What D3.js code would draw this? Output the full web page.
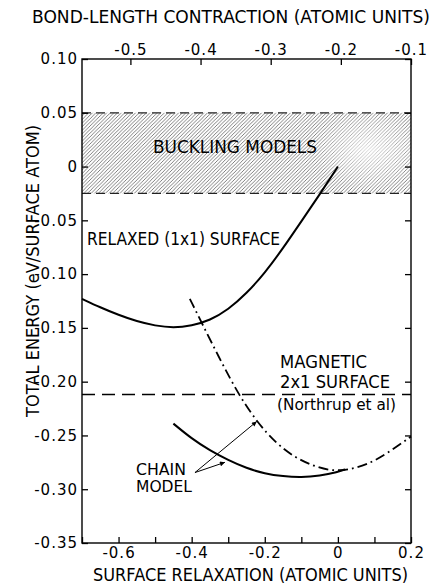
<!DOCTYPE html>
<html lang="en">
  <head>
    <meta charset="UTF-8" />
    <title>Surface relaxation energies</title>
    <style>
      body { margin: 0; background: #fff; }
      svg { font-family: "DejaVu Sans", "Liberation Sans", sans-serif; }
    </style>
  </head>
  <body>
    <svg width="434" height="586"></svg>
    <script src="https://cdn.jsdelivr.net/npm/d3@7"></script>
    <script>
      // relaxed (1x1) surface curve
      var relaxX = [-0.70, -0.65, -0.60, -0.55, -0.50, -0.45, -0.40, -0.35, -0.30, -0.25, -0.20, -0.15, -0.10, -0.05, 0.00];
      var relaxE = [-0.123, -0.131, -0.138, -0.144, -0.148, -0.150, -0.148, -0.143, -0.133, -0.118, -0.099, -0.076, -0.051, -0.026, 0.000];

      // chain model, solid
      var chainX = [-0.45, -0.40, -0.35, -0.30, -0.25, -0.20, -0.15, -0.10, -0.05, 0.00, 0.02];
      var chainE = [-0.239, -0.253, -0.264, -0.273, -0.2805, -0.2855, -0.288, -0.289, -0.2875, -0.284, -0.2815];

      // chain model, dash-dot
      var chain2X = [-0.405, -0.37, -0.32, -0.27, -0.22, -0.17, -0.12, -0.07, -0.02, 0.03, 0.08, 0.13, 0.20];
      var chain2E = [-0.123, -0.147, -0.181, -0.213, -0.238, -0.257, -0.270, -0.278, -0.283, -0.282, -0.277, -0.268, -0.251];

      var magneticE = -0.212;           // Northrup et al
      var bucklingBand = [-0.025, 0.05];

      var bottomTicks = [-0.7, -0.6, -0.5, -0.4, -0.3, -0.2, -0.1, 0, 0.1, 0.2];
      var bottomLabels = [-0.6, -0.4, -0.2, 0, 0.2];
      var topTicks = [-0.5, -0.4, -0.3, -0.2, -0.1];
      var leftTicks = [0.10, 0.05, 0, -0.05, -0.10, -0.15, -0.20, -0.25, -0.30, -0.35];

      var svg = d3.select("svg");

      var x = d3.scaleLinear().domain([-0.7, 0.2]).range([82, 411]);
      var xTop = d3.scaleLinear().domain([-0.569, -0.1]).range([82, 411]);
      var y = d3.scaleLinear().domain([-0.35, 0.10]).range([543, 59]);

      function fmt(d, n) {
        if (Math.abs(d) < 1e-9) return "0";
        return d.toFixed(n);
      }

      // hatch pattern + fade for the scanned look
      var defs = svg.append("defs");
      var pat = defs.append("pattern")
        .attr("id", "hatch")
        .attr("patternUnits", "userSpaceOnUse")
        .attr("width", 3.6).attr("height", 3.6);
      pat.append("path")
        .attr("d", "M-0.9,0.9 l1.8,-1.8 M0,3.6 l3.6,-3.6 M2.7,4.5 l1.8,-1.8")
        .attr("stroke", "#555").attr("stroke-width", 0.75);
      var grad = defs.append("radialGradient").attr("id", "fade");
      grad.append("stop").attr("offset", "0%").attr("stop-color", "#fff").attr("stop-opacity", 0.7);
      grad.append("stop").attr("offset", "100%").attr("stop-color", "#fff").attr("stop-opacity", 0);

      // buckling models band
      svg.append("rect")
        .attr("x", x(-0.7)).attr("width", x(0.2) - x(-0.7))
        .attr("y", y(bucklingBand[1])).attr("height", y(bucklingBand[0]) - y(bucklingBand[1]))
        .attr("fill", "url(#hatch)");
      svg.append("ellipse")
        .attr("cx", 368).attr("cy", 150).attr("rx", 55).attr("ry", 40)
        .attr("fill", "url(#fade)");
      svg.selectAll(".bandEdge")
        .data(bucklingBand)
        .enter().append("line")
        .attr("x1", x(-0.7)).attr("x2", x(0.2))
        .attr("y1", function(d) { return y(d); }).attr("y2", function(d) { return y(d); })
        .attr("stroke", "#222").attr("stroke-width", 1.2)
        .attr("stroke-dasharray", "9,5");

      // magnetic 2x1 line
      svg.append("line")
        .attr("x1", x(-0.7)).attr("x2", x(0.2))
        .attr("y1", y(magneticE)).attr("y2", y(magneticE))
        .attr("stroke", "#000").attr("stroke-width", 1.6)
        .attr("stroke-dasharray", "13,7");

      var line = d3.line()
        .x(function(d) { return x(d[0]); })
        .y(function(d) { return y(d[1]); })
        .curve(d3.curveBasis);

      svg.append("path")
        .datum(d3.zip(relaxX, relaxE))
        .attr("d", line)
        .attr("fill", "none").attr("stroke", "#000").attr("stroke-width", 2);

      svg.append("path")
        .datum(d3.zip(chainX, chainE))
        .attr("d", line)
        .attr("fill", "none").attr("stroke", "#000").attr("stroke-width", 2);

      svg.append("path")
        .datum(d3.zip(chain2X, chain2E))
        .attr("d", line)
        .attr("fill", "none").attr("stroke", "#000").attr("stroke-width", 1.8)
        .attr("stroke-dasharray", "10,4,1.8,4");

      // arrows
      defs.append("marker")
        .attr("id", "arr")
        .attr("viewBox", "0 0 10 10")
        .attr("refX", 10).attr("refY", 5)
        .attr("markerWidth", 7).attr("markerHeight", 5)
        .attr("markerUnits", "userSpaceOnUse")
        .attr("orient", "auto")
        .append("path").attr("d", "M0,0 L10,5 L0,10 z").attr("fill", "#000");

      var arrowFrom = [-0.391, -0.2845];
      var arrowTo = [[-0.222, -0.237], [-0.309, -0.275]];
      svg.selectAll(".arrow")
        .data(arrowTo)
        .enter().append("line")
        .attr("x1", x(arrowFrom[0])).attr("y1", y(arrowFrom[1]))
        .attr("x2", function(d) { return x(d[0]); })
        .attr("y2", function(d) { return y(d[1]); })
        .attr("stroke", "#000").attr("stroke-width", 1)
        .attr("marker-end", "url(#arr)");

      // axes
      var gB = svg.append("g").attr("transform", "translate(0," + y(-0.35) + ")")
        .call(d3.axisBottom(x).tickValues(bottomTicks).tickSize(-6).tickPadding(4)
          .tickFormat(function(d) {
            return bottomLabels.some(function(v) { return Math.abs(v - d) < 1e-9; }) ? fmt(d, 1) : "";
          }));
      var gT = svg.append("g").attr("transform", "translate(0," + y(0.10) + ")")
        .call(d3.axisTop(xTop).tickValues(topTicks).tickSize(-6).tickPadding(4)
          .tickFormat(function(d) { return fmt(d, 1); }));
      var gL = svg.append("g").attr("transform", "translate(" + x(-0.7) + ",0)")
        .call(d3.axisLeft(y).tickValues(leftTicks).tickSize(-6).tickPadding(4)
          .tickFormat(function(d) { return fmt(d, 2); }));
      var gR = svg.append("g").attr("transform", "translate(" + x(0.2) + ",0)")
        .call(d3.axisRight(y).tickValues(leftTicks).tickSize(-6).tickFormat(""));

      [gB, gT, gL, gR].forEach(function(g) {
        g.select(".domain").remove();
        g.selectAll(".tick line").attr("stroke", "#000").attr("stroke-width", 1.3);
        g.selectAll("text")
          .attr("font-family", "DejaVu Sans")
          .attr("font-size", 15)
          .attr("letter-spacing", 1)
          .attr("fill", "#000");
      });

      // frame
      svg.append("rect")
        .attr("x", x(-0.7)).attr("y", y(0.10))
        .attr("width", x(0.2) - x(-0.7)).attr("height", y(-0.35) - y(0.10))
        .attr("fill", "none").attr("stroke", "#000").attr("stroke-width", 1.4);

      // labels
      function label(txt, x0, x1, base, size) {
        svg.append("text")
          .attr("x", x0).attr("y", base)
          .attr("font-size", size || 16)
          .attr("textLength", x1 - x0)
          .attr("lengthAdjust", "spacingAndGlyphs")
          .attr("fill", "#000")
          .text(txt);
      }
      label("BOND-LENGTH CONTRACTION (ATOMIC UNITS)", 32, 430, 23, 17);
      label("SURFACE RELAXATION (ATOMIC UNITS)", 93, 408, 581, 17);
      label("BUCKLING MODELS", 153, 317, 153, 17);
      label("RELAXED (1x1) SURFACE", 87, 280, 245, 17);
      label("MAGNETIC", 280, 367, 368, 17);
      label("2x1 SURFACE", 280, 390, 388, 17);
      label("(Northrup et al)", 277, 396, 410, 16);
      label("CHAIN", 136, 186, 475, 15);
      label("MODEL", 136, 192, 492, 15);

      svg.append("text")
        .attr("transform", "translate(39,417) rotate(-90)")
        .attr("font-size", 17)
        .attr("textLength", 292)
        .attr("lengthAdjust", "spacingAndGlyphs")
        .attr("fill", "#000")
        .text("TOTAL ENERGY (eV/SURFACE ATOM)");
    </script>
  </body>
</html>
